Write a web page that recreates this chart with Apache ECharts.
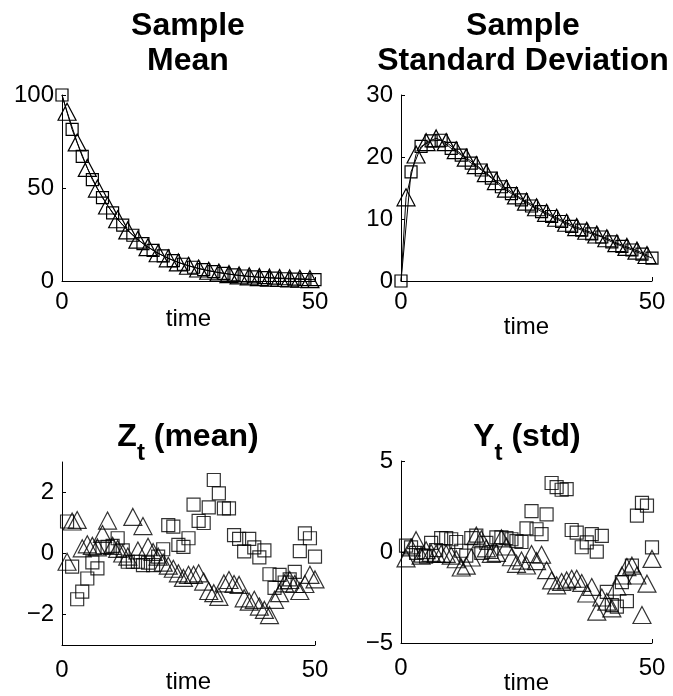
<!DOCTYPE html>
<html>
<head>
<meta charset="utf-8">
<script src="https://cdn.jsdelivr.net/npm/echarts@6/dist/echarts.min.js"></script>
<style>
html,body{margin:0;padding:0;background:#fff;}
#chart{width:673px;height:696px;}
</style>
</head>
<body>
<div id="chart"></div>
<script>
// ---- time values ----
const tEven = [0,2,4,6,8,10,12,14,16,18,20,22,24,26,28,30,32,34,36,38,40,42,44,46,48,50];
const tOdd = [1,3,5,7,9,11,13,15,17,19,21,23,25,27,29,31,33,35,37,39,41,43,45,47,49];
const tAll = [1,2,3,4,5,6,7,8,9,10,11,12,13,14,15,16,17,18,19,20,21,22,23,24,25,26,27,28,29,30,31,32,33,34,35,36,37,38,39,40,41,42,43,44,45,46,47,48,49,50];

// ---- Sample mean (top left) ----
const meanSquares = [100,81.5,67,54.5,44.8,36.6,30.0,24.6,20.1,16.5,13.5,11.0,9.0,7.4,6.1,5.0,4.1,3.3,2.7,2.2,1.8,1.5,1.2,1.0,0.8,0.7];
const meanTriangles = [91,74.5,60.8,49.7,40.6,33.2,27.2,22.2,18.2,14.9,12.2,10.0,8.2,6.7,5.5,4.5,3.7,3.0,2.5,2.1,1.8,1.6,1.4,1.2,1.0];

// ---- Sample standard deviation (top right) ----
const stdSquares = [0,17.6,21.7,22.6,22.7,21.4,20.3,19.0,17.9,16.6,15.2,14.1,13.1,12.1,11.2,10.4,9.6,8.8,8.2,7.6,7.1,6.3,5.6,5.0,4.35,3.7];
const stdTriangles = [13.5,20.4,22.4,23.0,22.4,21.1,19.9,18.7,17.4,16.1,14.9,13.8,12.8,11.9,11.0,10.2,9.4,8.7,8.1,7.5,6.9,6.1,5.5,4.9,4.2];

// ---- Z_t (mean) (bottom left) ----
const zSquares = [1.05,-0.43,-1.5,-1.25,-0.82,-0.29,-0.49,0.2,0.22,0.25,0.5,0.1,-0.27,-0.27,-0.27,-0.38,-0.3,-0.38,-0.1,0.14,0.93,0.88,0.28,0.22,0.5,1.6,1.07,1.0,1.51,2.41,1.97,1.48,1.48,0.6,0.48,0.07,0.48,0.2,-0.13,0.1,-0.68,-1.13,-0.7,-0.95,-0.85,-0.6,0.08,0.66,0.5,-0.1];
const zTriangles = [-0.27,1.05,1.1,0.17,0.3,0.25,0.2,0.64,1.08,0.25,0.15,0.0,-0.1,1.2,0.1,0.9,0.22,0.05,-0.1,-0.3,-0.4,-0.5,-0.65,-0.8,-0.7,-0.7,-0.65,-0.92,-1.23,-1.3,-1.42,-0.98,-0.87,-1.0,-1.03,-1.47,-1.58,-1.52,-1.74,-1.85,-2.02,-1.52,-1.3,-0.98,-0.87,-1.0,-1.23,-1.0,-0.7,-0.85];

// ---- Y_t (std) (bottom right) ----
const ySquares = [0.35,0.25,-0.05,-0.2,-0.25,0.5,0.1,0.76,0.76,0.7,0.55,0.07,-0.2,0.76,0.9,-0.05,0.5,0.0,0.8,0.8,0.76,0.7,0.6,0.55,1.3,2.25,1.25,0.98,2.07,3.79,3.57,3.42,3.45,1.21,1.07,0.26,0.53,0.98,0.02,0.89,-2.19,-2.92,-3.0,-1.65,-2.7,-0.75,2.0,2.7,2.55,0.25];
const yTriangles = [-0.35,0.25,0.65,-0.2,0.1,-0.05,-0.1,-0.1,-0.1,-0.2,-0.4,-0.85,-0.75,-0.3,0.9,0.7,0.2,-0.1,-0.05,0.75,0.3,-0.29,-0.65,-0.47,-0.74,-0.11,-0.5,-0.15,-1.0,-1.56,-1.83,-1.65,-1.56,-1.47,-1.47,-1.7,-2.28,-1.92,-3.28,-2.5,-2.73,-3.1,-1.9,-1.29,-0.83,-0.75,-1.29,-3.46,-1.74,-0.38];

// ---- tick labels ----
const xTicks = [0,50];
const yTicksMean = [0,50,100];
const yTicksStd = [0,10,20,30];
const yTicksZ = [-2,0,2];
const yTicksY = [-5,0,5];

const FONT = "'Liberation Sans', Arial, Helvetica, sans-serif";
const zip = (xs, ys) => xs.map((x, i) => [x, ys[i]]);

const grids = [
  {left:62, top:95, width:253, height:186},
  {left:401, top:95, width:251, height:186},
  {left:62, top:462, width:253, height:183},
  {left:401, top:461, width:251, height:184}
];

function minusFmt(v){ return String(v).replace('-', '\u2212'); }

function xAxisDef(gi, nameGap, labelMargin){
  return {
    type:'value', gridIndex:gi, min:0, max:50,
    name:'time', nameLocation:'middle', nameGap:nameGap, nameMoveOverlap:false,
    nameTextStyle:{fontSize:24, color:'#000', fontFamily:FONT},
    axisLine:{show:true, onZero:false, lineStyle:{color:'#000', width:1}},
    axisTick:{show:true, inside:true, length:4, customValues:xTicks, lineStyle:{color:'#000'}},
    axisLabel:{customValues:xTicks, fontSize:24, color:'#000', fontFamily:FONT, margin:labelMargin, formatter:minusFmt},
    splitLine:{show:false}
  };
}
function yAxisDef(gi, mn, mx, ticks){
  return {
    type:'value', gridIndex:gi, min:mn, max:mx,
    axisLine:{show:true, onZero:false, lineStyle:{color:'#000', width:1}},
    axisTick:{show:true, inside:true, length:4, customValues:ticks, lineStyle:{color:'#000'}},
    axisLabel:{customValues:ticks, fontSize:24, color:'#000', fontFamily:FONT, margin:8, formatter:minusFmt},
    splitLine:{show:false}
  };
}

const markerStyle = {color:'rgba(0,0,0,0)', borderColor:'#000', borderWidth:1.2};
const SQ = 13, TRI = [18,17];

function lineSeries(ai, pts, symbol, size, startPoint){
  const data = pts.slice();
  if (startPoint) data.unshift({value:startPoint, symbol:'none'});
  return {
    type:'line', xAxisIndex:ai, yAxisIndex:ai, data:data,
    symbol:symbol, symbolSize:size, showSymbol:true, showAllSymbol:true,
    lineStyle:{color:'#000', width:1}, itemStyle:markerStyle,
    clip:false, silent:true, z:2
  };
}
function scatterSeries(ai, pts, symbol, size){
  return {
    type:'scatter', xAxisIndex:ai, yAxisIndex:ai, data:pts,
    symbol:symbol, symbolSize:size, itemStyle:markerStyle, clip:false, silent:true
  };
}

const subRich = {
  a:{fontSize:32, fontWeight:'bold', fontFamily:FONT, lineHeight:36, verticalAlign:'top', fill:'#000'},
  b:{fontSize:24, fontWeight:'bold', fontFamily:FONT, lineHeight:44, verticalAlign:'bottom', fill:'#000'}
};

const option = {
  animation:false,
  backgroundColor:'#fff',
  grid:grids,
  xAxis:[xAxisDef(0,26,9), xAxisDef(1,34,9), xAxisDef(2,25,13), xAxisDef(3,28,13)],
  yAxis:[yAxisDef(0,0,100,yTicksMean), yAxisDef(1,0,30,yTicksStd), yAxisDef(2,-3,3,yTicksZ), yAxisDef(3,-5,5,yTicksY)],
  series:[
    lineSeries(0, zip(tEven, meanSquares), 'rect', SQ-1),
    lineSeries(0, zip(tOdd, meanTriangles), 'triangle', TRI, [0, meanSquares[0]]),
    lineSeries(1, zip(tEven, stdSquares), 'rect', SQ-1),
    lineSeries(1, zip(tOdd, stdTriangles), 'triangle', TRI, [0, stdSquares[0]]),
    scatterSeries(2, zip(tAll, zSquares), 'rect', SQ),
    scatterSeries(2, zip(tAll, zTriangles), 'triangle', TRI),
    scatterSeries(3, zip(tAll, ySquares), 'rect', SQ),
    scatterSeries(3, zip(tAll, yTriangles), 'triangle', TRI)
  ],
  graphic:[
    {type:'text', x:188, y:9, style:{text:'Sample\nMean', align:'center', verticalAlign:'top', fontSize:32, fontWeight:'bold', fontFamily:FONT, lineHeight:35, fill:'#000'}},
    {type:'text', x:523, y:9, style:{text:'Sample\nStandard Deviation', align:'center', verticalAlign:'top', fontSize:32, fontWeight:'bold', fontFamily:FONT, lineHeight:35, fill:'#000'}},
    {type:'text', x:188, y:421, style:{text:'{a|Z}{b|t}{a| (mean)}', align:'center', verticalAlign:'top', fill:'#000', rich:subRich}},
    {type:'text', x:527, y:421, style:{text:'{a|Y}{b|t}{a| (std)}', align:'center', verticalAlign:'top', fill:'#000', rich:subRich}}
  ]
};

const chart = echarts.init(document.getElementById('chart'), null, {renderer:'canvas'});
chart.setOption(option);
</script>
</body>
</html>
